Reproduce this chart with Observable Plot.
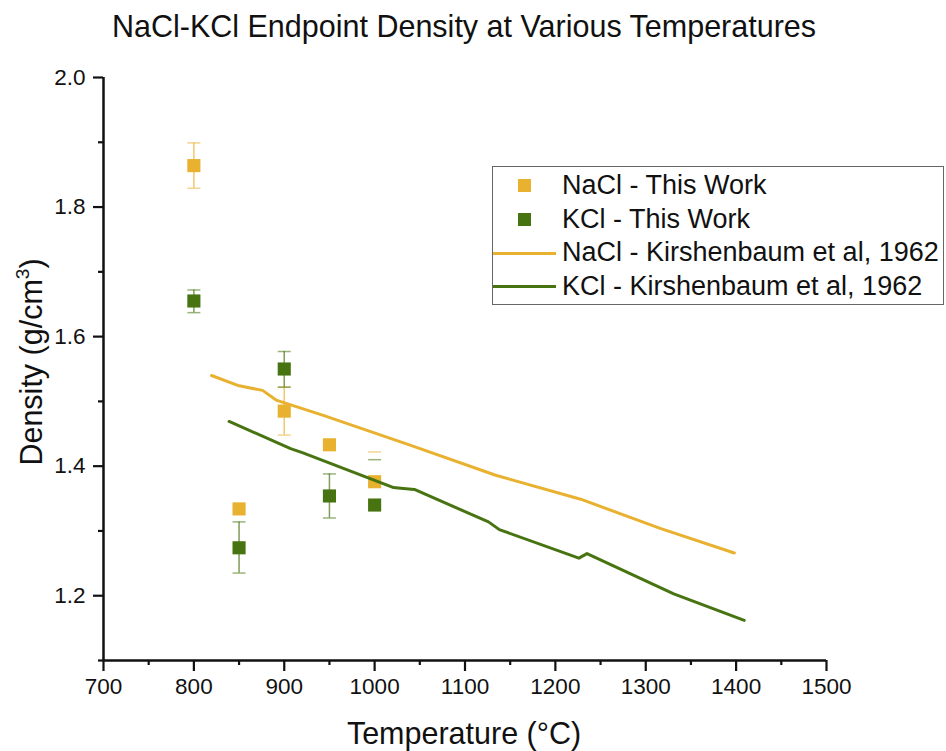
<!DOCTYPE html>
<html>
<head>
<meta charset="utf-8">
<script src="https://cdn.jsdelivr.net/npm/d3@7"></script>
<script src="https://cdn.jsdelivr.net/npm/@observablehq/plot@0.6"></script>
<style>
  body { margin: 0; background: #fff; font-family: "Liberation Sans", Arial, sans-serif; }
  #wrap { position: relative; width: 946px; height: 751px; overflow: hidden; background: #fff; }
  #chart { position: absolute; left: 0; top: 0; }
  #chart svg text { font-size: 22.5px !important; fill: #111; }
  #title { position: absolute; left: 0; width: 928px; top: 9px; text-align: center; font-size: 30.5px; color: #111; white-space: nowrap; }
  #xlabel { position: absolute; left: 0; width: 928px; top: 716px; text-align: center; font-size: 30.5px; color: #111; white-space: nowrap; }
  #ylabel { position: absolute; left: 31px; top: 362px; transform: translate(-50%, -50%) rotate(-90deg); font-size: 30.5px; color: #111; white-space: nowrap; }
  #ylabel sup { font-size: 19px; vertical-align: 13px; line-height: 0; }
  #legend { position: absolute; left: 492px; top: 166px; width: 452px; height: 139px; box-sizing: border-box; border: 1.5px solid #666; background: #fff; padding-top: 2px; }
  .row { position: relative; height: 33.5px; line-height: 33.5px; font-size: 27px; color: #111; padding-left: 69px; white-space: nowrap; }
  .sq { position: absolute; left: 25px; top: 10px; width: 13px; height: 13px; }
  .ln { position: absolute; left: 0px; top: 15.5px; width: 63px; height: 3px; }
</style>
</head>
<body>
<div id="wrap">
  <div id="chart"></div>
  <div id="title">NaCl-KCl Endpoint Density at Various Temperatures</div>
  <div id="xlabel">Temperature (°C)</div>
  <div id="ylabel">Density (g/cm<sup>3</sup>)</div>
  <div id="legend"></div>
</div>
<script>
// ---- data ----
const seriesNames = ["NaCl - This Work", "KCl - This Work", "NaCl - Kirshenbaum et al, 1962", "KCl - Kirshenbaum et al, 1962"];
const colors = ["#E9B130", "#477411"];

const temps = [800, 850, 900, 950, 1000];
const naclDensity = [1.864, 1.334, 1.485, 1.433, 1.376];
const naclErrUp   = [0.035, 0.000, 0.037, 0.000, 0.046];
const naclErrDown = [0.035, 0.000, 0.037, 0.000, 0.000];
const kclDensity  = [1.655, 1.274, 1.550, 1.354, 1.340];
const kclErrUp    = [0.017, 0.040, 0.027, 0.034, 0.070];
const kclErrDown  = [0.018, 0.039, 0.028, 0.034, 0.000];
const stemVisible = [true, true, true, true, false];

const naclRefT   = [819.5, 850, 876, 891, 944, 1040, 1134, 1228, 1316, 1398];
const naclRefRho = [1.540, 1.524, 1.517, 1.502, 1.478, 1.432, 1.386, 1.349, 1.304, 1.266];
const kclRefT    = [839, 907, 920, 1021, 1029, 1044, 1126, 1138, 1226, 1235, 1331, 1409];
const kclRefRho  = [1.469, 1.427, 1.421, 1.367, 1.366, 1.364, 1.314, 1.302, 1.258, 1.265, 1.203, 1.162];

const xMajor = [700, 800, 900, 1000, 1100, 1200, 1300, 1400, 1500];
const xMinor = [750, 850, 950, 1050, 1150, 1250, 1350, 1450];
const yMajor = [1.2, 1.4, 1.6, 1.8, 2.0];
const yMinor = [1.1, 1.3, 1.5, 1.7, 1.9];

// ---- build tables ----
function pts(ds, up, down, color) {
  return temps.map((t, i) => ({
    t, rho: ds[i], hi: ds[i] + up[i], lo: ds[i] - down[i],
    up: up[i], down: down[i], stem: stemVisible[i], color
  }));
}
const nacl = pts(naclDensity, naclErrUp, naclErrDown, colors[0]);
const kcl = pts(kclDensity, kclErrUp, kclErrDown, colors[1]);
const naclRef = naclRefT.map((t, i) => ({t, rho: naclRefRho[i]}));
const kclRef = kclRefT.map((t, i) => ({t, rho: kclRefRho[i]}));

const capSymbol = { draw(ctx) { ctx.moveTo(-6.5, 0); ctx.lineTo(6.5, 0); } };

function errMarks(data, color) {
  const stems = data.filter(d => d.stem && (d.up > 0 || d.down > 0));
  const capsHi = data.filter(d => d.up > 0);
  const capsLo = data.filter(d => d.down > 0);
  return [
    Plot.ruleX(stems, {x: "t", y1: "lo", y2: "hi", stroke: color, strokeOpacity: 0.7, strokeWidth: 1.5}),
    Plot.dot(capsHi, {x: "t", y: "hi", symbol: capSymbol, stroke: color, strokeOpacity: 0.55, strokeWidth: 1.5, fill: "none", r: 3}),
    Plot.dot(capsLo, {x: "t", y: "lo", symbol: capSymbol, stroke: color, strokeOpacity: 0.55, strokeWidth: 1.5, fill: "none", r: 3})
  ];
}

const chart = Plot.plot({
  width: 946,
  height: 751,
  marginTop: 77,
  marginBottom: 91,
  marginLeft: 103,
  marginRight: 120,
  x: {domain: [700, 1500]},
  y: {domain: [1.1, 2.0]},
  style: {fontFamily: '"Liberation Sans", Arial, sans-serif', fontSize: "22px", color: "#111", background: "transparent", overflow: "visible"},
  marks: [
    Plot.axisX(xMajor, {tickSize: 11, tickPadding: 7, strokeWidth: 2.2, stroke: "#111", fill: "#111", label: null, tickFormat: d => String(d)}),
    Plot.axisX(xMinor, {tickSize: 5, strokeWidth: 2.2, stroke: "#111", label: null, tickFormat: () => ""}),
    Plot.axisY(yMajor, {tickSize: 10, tickPadding: 8, strokeWidth: 2.2, stroke: "#111", fill: "#111", label: null, tickFormat: d => d.toFixed(1)}),
    Plot.axisY(yMinor, {tickSize: 5, strokeWidth: 2.2, stroke: "#111", label: null, tickFormat: () => ""}),
    Plot.ruleX([700], {stroke: "#111", strokeWidth: 2.5}),
    Plot.ruleY([1.1], {stroke: "#111", strokeWidth: 2.5}),
    ...errMarks(nacl, colors[0]),
    ...errMarks(kcl, colors[1]),
    Plot.dot(nacl, {x: "t", y: "rho", symbol: "square", r: 7.4, fill: colors[0], stroke: "none"}),
    Plot.dot(kcl, {x: "t", y: "rho", symbol: "square", r: 7.4, fill: colors[1], stroke: "none"}),
    Plot.line(naclRef, {x: "t", y: "rho", stroke: colors[0], strokeWidth: 3}),
    Plot.line(kclRef, {x: "t", y: "rho", stroke: colors[1], strokeWidth: 3})
  ]
});
document.getElementById("chart").appendChild(chart);

// ---- legend ----
const legend = document.getElementById("legend");
seriesNames.forEach((name, i) => {
  const row = document.createElement("div");
  row.className = "row";
  const sw = document.createElement("span");
  sw.className = i < 2 ? "sq" : "ln";
  sw.style.background = colors[i % 2];
  row.appendChild(sw);
  row.appendChild(document.createTextNode(name));
  legend.appendChild(row);
});
</script>
</body>
</html>
